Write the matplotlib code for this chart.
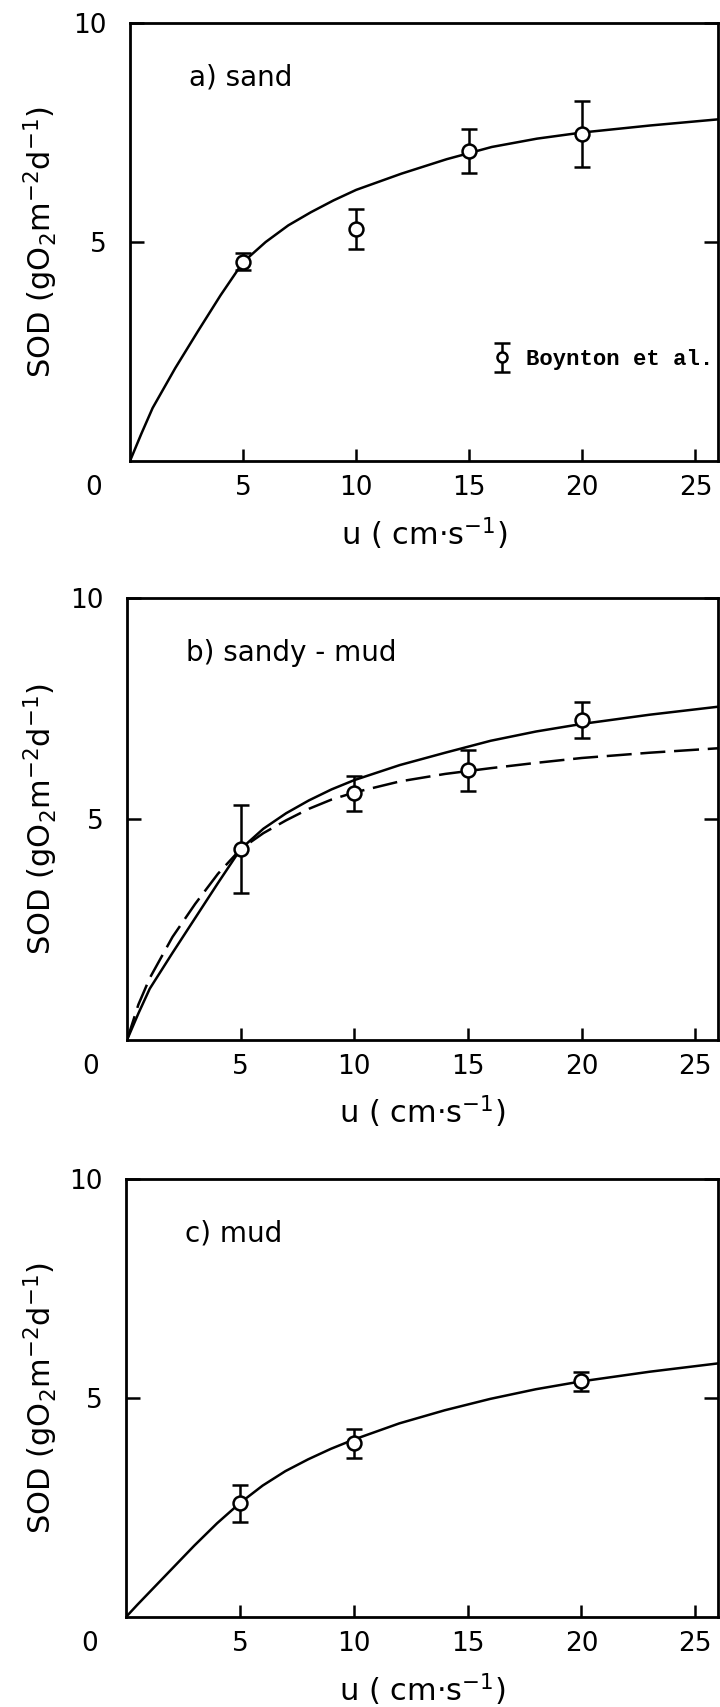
import matplotlib
matplotlib.use("Agg")
import matplotlib.pyplot as plt
from matplotlib.transforms import offset_copy
from matplotlib.legend_handler import HandlerErrorbar
from matplotlib.container import ErrorbarContainer

# ---------------- data ----------------
curve_u = [0, 0.5, 1, 2, 3, 4, 5, 6, 7, 8, 9, 10, 12, 14, 16, 18, 20, 23, 26]

# a) sand
obs_u_a = [5, 10, 15, 20]
obs_a = [4.55, 5.3, 7.07, 7.47]
err_a = [0.2, 0.45, 0.5, 0.75]
fit_a = [0, 0.62, 1.21, 2.12, 2.96, 3.78, 4.54, 5.0, 5.38, 5.68, 5.95, 6.19,
         6.56, 6.89, 7.17, 7.36, 7.5, 7.66, 7.8]

# b) sandy-mud
obs_u_b = [5, 10, 15, 20]
obs_b = [4.32, 5.58, 6.1, 7.24]
err_b = [1.0, 0.4, 0.46, 0.41]
fit_b_solid = [0, 0.6, 1.16, 1.97, 2.76, 3.55, 4.32, 4.78, 5.13, 5.42, 5.67, 5.88,
               6.22, 6.5, 6.77, 6.98, 7.15, 7.36, 7.54]
fit_b_dash = [0, 0.8, 1.4, 2.33, 3.08, 3.76, 4.32, 4.68, 4.97, 5.23, 5.44, 5.6,
              5.85, 6.02, 6.15, 6.27, 6.38, 6.5, 6.6]

# c) mud
obs_u_c = [5, 10, 20]
obs_c = [2.6, 3.97, 5.38]
err_c = [0.42, 0.33, 0.21]
fit_c = [0, 0.28, 0.55, 1.09, 1.63, 2.14, 2.6, 3.0, 3.33, 3.6, 3.84, 4.05,
         4.42, 4.72, 4.98, 5.2, 5.38, 5.6, 5.79]

panel_labels = ["a) sand", "b) sandy - mud", "c) mud"]
xticks = [5, 10, 15, 20, 25]
yticks = [5, 10]
legend_label = "Boynton et al."

# ---------------- figure ----------------
W, H = 720, 1707
fig = plt.figure(figsize=(W / 100, H / 100), dpi=100)

boxes = [(130, 23, 718, 461), (127, 598, 718, 1040), (126, 1179, 718, 1617)]
axes = []
for (l, t, r, b) in boxes:
    axes.append(fig.add_axes([l / W, 1 - b / H, (r - l) / W, (b - t) / H]))

LW = 1.8
ylabel = r"SOD (gO$_2$m$^{-2}$d$^{-1}$)"
xlabel = r"u ( cm$\cdot$s$^{-1}$)"

def style(ax, label, box):
    l, t, r, b = box
    ax.set_xlim(0, 26)
    ax.set_ylim(0, 10)
    ax.set_xticks(xticks)
    ax.set_xticklabels([str(v) for v in xticks])
    ax.set_yticks(yticks)
    ax.set_yticklabels([str(v) for v in yticks])
    for s in ax.spines.values():
        s.set_linewidth(2.0)
    ax.tick_params(axis="x", direction="in", length=9, width=LW, labelsize=19,
                   pad=10, top=False)
    ax.tick_params(axis="y", direction="in", length=10, width=LW, labelsize=19,
                   pad=17, right=True, labelright=False)
    ax.set_ylabel(ylabel, fontsize=22)
    ax.yaxis.set_label_coords(-(l - 60) / (r - l), 0.5)
    ax.set_xlabel(xlabel, fontsize=22)
    ax.xaxis.set_label_coords(0.5, -54 / (b - t))
    tr = offset_copy(ax.transAxes, fig=fig, x=-36, y=-27, units="dots")
    ax.text(0, 0, "0", transform=tr, fontsize=19, ha="center", va="center")
    ax.text(2.6, 8.58, label, fontsize=20, ha="left", va="baseline")

eb_kw = dict(fmt="o", ms=10, mfc="white", mec="black", mew=1.8,
             ecolor="black", elinewidth=1.8, capsize=5.5, capthick=1.8, zorder=3)

# a
ax = axes[0]
ax.plot(curve_u, fit_a, color="black", lw=1.8)
h = ax.errorbar(obs_u_a, obs_a, yerr=err_a, label=legend_label, **eb_kw)
leg = ax.legend(handles=[h], loc="center left", bbox_to_anchor=(0.617, 0.232),
                frameon=False, borderpad=0, borderaxespad=0, handlelength=0.8,
                handletextpad=0.7, markerscale=0.72,
                handler_map={ErrorbarContainer: HandlerErrorbar(xerr_size=0.45, yerr_size=0.65)},
                prop=dict(family=["Liberation Mono", "DejaVu Sans Mono"],
                          weight="bold", size=16))
style(ax, panel_labels[0], boxes[0])

# b
ax = axes[1]
ax.plot(curve_u, fit_b_solid, color="black", lw=1.8)
ax.plot(curve_u, fit_b_dash, color="black", lw=1.8, dashes=(10, 3.5))
ax.errorbar(obs_u_b, obs_b, yerr=err_b, **eb_kw)
style(ax, panel_labels[1], boxes[1])

# c
ax = axes[2]
ax.plot(curve_u, fit_c, color="black", lw=1.8)
ax.errorbar(obs_u_c, obs_c, yerr=err_c, **eb_kw)
style(ax, panel_labels[2], boxes[2])

fig.savefig("out.png", dpi=100)
